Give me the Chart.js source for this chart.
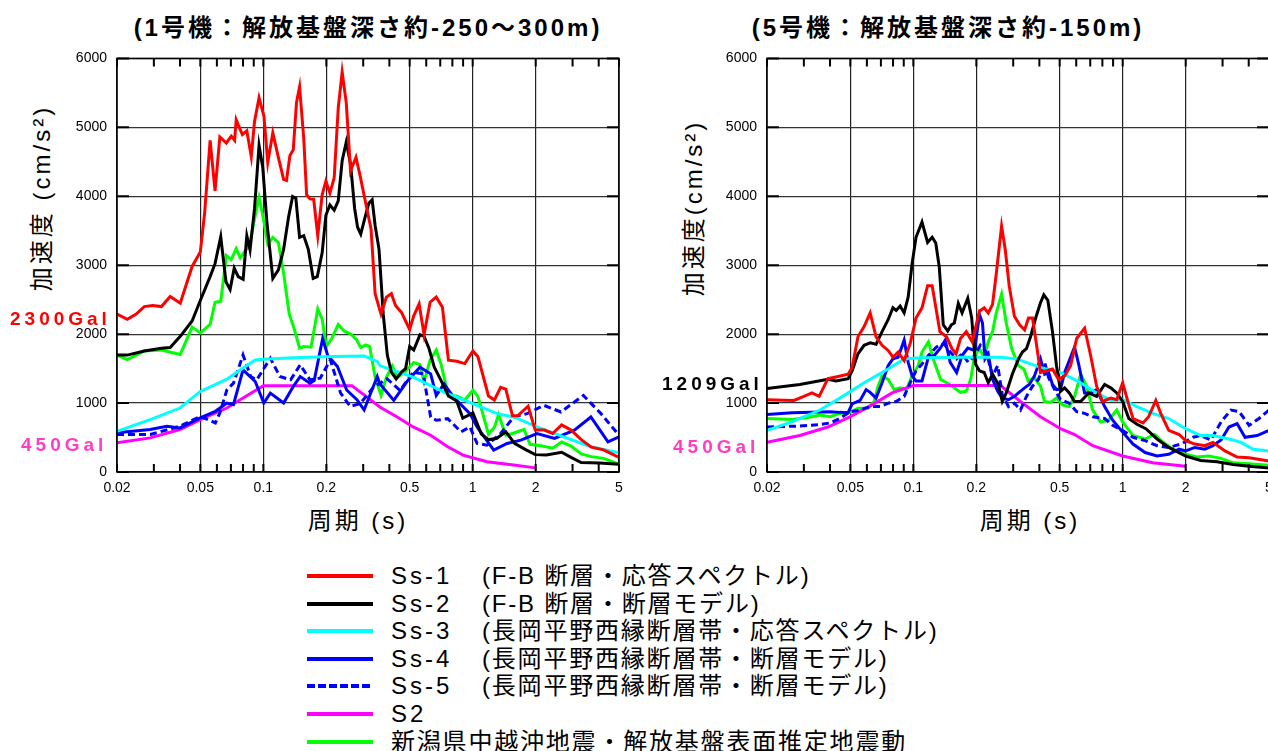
<!DOCTYPE html>
<html lang="ja">
<head>
<meta charset="utf-8">
<script src="https://cdn.jsdelivr.net/npm/chart.js@4.4.1/dist/chart.umd.min.js"></script>
<style>
  body { margin: 0; width: 1268px; height: 751px; overflow: hidden; background: #fff; position: relative;
         font-family: 'Liberation Sans', 'Noto Sans CJK JP', sans-serif; color: #000; }
  canvas { position: absolute; }
  .t { position: absolute; white-space: nowrap; line-height: 1; }
  .c { transform: translate(-50%, -50%); }
  .v { transform: translate(-50%, -50%) rotate(-90deg); }
  .l { transform: translateY(-50%); }
  .title { font-size: 24px; font-weight: bold; letter-spacing: 3px; }
  .axt { font-size: 24px; letter-spacing: 3px; }
  .gal { font-size: 19px; font-weight: bold; letter-spacing: 4px; }
  .name { font-size: 24px; letter-spacing: 3px; }
  .leg { font-size: 24px; letter-spacing: 1.8px; }
  .swatch { position: absolute; left: 307px; width: 66px; height: 4px; transform: translateY(-50%); }
</style>
</head>
<body>

<div class="t c title" style="left:368px; top:28px;">(1号機：解放基盤深さ約-250～300m)</div>
<div class="t c title" style="left:948px; top:28px;">(5号機：解放基盤深さ約-150m)</div>

<div class="t v axt" style="left:42px; top:198px;">加速度 (cm/s²)</div>
<div class="t v axt" style="left:694px; top:208px;">加速度(cm/s²)</div>
<div class="t c axt" style="left:358px; top:521px;">周期 (s)</div>
<div class="t c axt" style="left:1030px; top:521px;">周期 (s)</div>

<canvas id="u1" width="640" height="470" style="left:0; top:40px;"></canvas>
<canvas id="u5" width="640" height="470" style="left:650px; top:40px;"></canvas>

<div class="t l gal" style="left:10px; top:318px; color:#ff0000;">2300Gal</div>
<div class="t l gal" style="left:21px; top:444px; color:#ff3cc8;">450Gal</div>
<div class="t l gal" style="left:662px; top:383px; color:#000;">1209Gal</div>
<div class="t l gal" style="left:673px; top:446px; color:#ff3cc8;">450Gal</div>

<div id="legend"></div>

<script>
// x軸（周期）の目盛り
const PERIOD_TICKS = [0.02, 0.03, 0.04, 0.05, 0.06, 0.07, 0.08, 0.09, 0.1, 0.2, 0.3, 0.4, 0.5, 0.6, 0.7, 0.8, 0.9, 1, 2, 3, 4, 5];
const PERIOD_LABELS = [0.02, 0.05, 0.1, 0.2, 0.5, 1, 2, 5];

// 凡例
const SERIES_NAMES = ['Ss-1', 'Ss-2', 'Ss-3', 'Ss-4', 'Ss-5', 'S2', ''];
const SERIES_NOTES = [
  '(F-B 断層・応答スペクトル)',
  '(F-B 断層・断層モデル)',
  '(長岡平野西縁断層帯・応答スペクトル)',
  '(長岡平野西縁断層帯・断層モデル)',
  '(長岡平野西縁断層帯・断層モデル)',
  '',
  '新潟県中越沖地震・解放基盤表面推定地震動'
];
const SERIES_COLORS = ['#ff0000', '#000000', '#00ffff', '#0000ff', '#0000ff', '#ff00ff', '#00ff00'];

// 1号機 [周期(s), 加速度(cm/s2)]
const u1_ss1 = [[0.02,2290],[0.0224,2216],[0.0247,2290],[0.027,2400],[0.0296,2414],[0.0326,2400],[0.0359,2547],[0.0401,2448],[0.0457,2982],[0.05,3190],
  [0.0525,3774],[0.0557,4812],[0.0588,4080],[0.062,4862],[0.0666,4773],[0.0703,4872],[0.0729,4812],[0.0742,5109],[0.0794,4896],[0.0834,4950],
  [0.0876,4575],[0.0908,5085],[0.0954,5430],[0.1007,5160],[0.105,4490],[0.111,4920],[0.118,4565],[0.125,4244],[0.129,4229],[0.134,4590],
  [0.139,4674],[0.144,5356],[0.149,5589],[0.156,4837],[0.161,4021],[0.167,3962],[0.174,3957],[0.182,3428],[0.191,4021],[0.199,4219],
  [0.208,4046],[0.218,4268],[0.228,5282],[0.238,5802],[0.249,5356],[0.261,4367],[0.277,4565],[0.289,4318],[0.305,3972],[0.327,3527],
  [0.342,2587],[0.365,2290],[0.387,2537],[0.409,2587],[0.428,2414],[0.457,2315],[0.5,2067],[0.523,2265],[0.555,2438],[0.586,1993],
  [0.626,2463],[0.67,2537],[0.717,2389],[0.766,1622],[0.839,1607],[0.917,1573],[1.003,1756],[1.06,1672],[1.19,1103],[1.27,1044],
  [1.36,1227],[1.44,1202],[1.55,816],[1.64,816],[1.84,955],[1.99,608],[2.2,608],[2.41,559],[2.66,683],[2.95,608],
  [3.3,470],[3.69,361],[4.22,321],[5,213]];
const u1_ss2 = [[0.02,1696],[0.0224,1696],[0.027,1756],[0.0326,1795],[0.0359,1805],[0.0401,1968],[0.0457,2191],[0.05,2488],[0.0557,2834],[0.0588,3022],
  [0.0626,3413],[0.0663,2760],[0.0694,2646],[0.0726,2958],[0.0759,2834],[0.0801,2794],[0.0834,3428],[0.0864,3220],[0.0908,3823],[0.0954,4738],
  [0.0994,4417],[0.104,3625],[0.111,2809],[0.118,2933],[0.125,3230],[0.132,3700],[0.138,3996],[0.143,3971],[0.149,3403],[0.156,3428],
  [0.164,3230],[0.173,2809],[0.181,2834],[0.191,3180],[0.199,3724],[0.208,3873],[0.218,3798],[0.228,3932],[0.238,4516],[0.249,4788],
  [0.261,4466],[0.273,3823],[0.282,3551],[0.292,3452],[0.305,3675],[0.319,3897],[0.331,3947],[0.342,3576],[0.357,3230],[0.374,2290],
  [0.391,1696],[0.409,1449],[0.431,1350],[0.457,1449],[0.478,1499],[0.5,1820],[0.523,1770],[0.56,1993],[0.586,1968],[0.618,1795],
  [0.655,1523],[0.7,1350],[0.766,1103],[0.839,1029],[0.897,781],[1.003,856],[1.1,549],[1.19,470],[1.3,485],[1.44,584],
  [1.59,411],[1.8,321],[1.99,252],[2.25,247],[2.66,287],[2.95,213],[3.3,138],[4.04,129],[5,114]];
const u1_ss3 = [[0.02,591],[0.0288,760],[0.04,928],[0.05,1169],[0.067,1347],[0.0775,1481],[0.0915,1626],[0.104,1640],[0.15,1660],[0.216,1674],
  [0.303,1684],[0.351,1602],[0.36,1544],[0.52,1376],[0.76,1135],[1.0,991],[1.31,847],[1.57,798],[2.03,654],[2.72,510],
  [3.67,366],[4.74,293],[5,279]];
const u1_ss4 = [[0.02,568],[0.0288,616],[0.0346,664],[0.04,640],[0.05,784],[0.059,880],[0.067,1000],[0.072,976],[0.08,1481],[0.0915,1313],
  [0.1005,1000],[0.108,1145],[0.125,1000],[0.139,1241],[0.15,1385],[0.167,1289],[0.175,1328],[0.192,1935],[0.203,1690],[0.226,1530],
  [0.25,1190],[0.28,1049],[0.303,900],[0.35,1385],[0.36,1279],[0.42,1039],[0.49,1328],[0.56,1520],[0.63,1424],[0.67,1111],
  [0.73,1279],[0.81,1087],[0.97,847],[1.05,654],[1.26,317],[1.46,414],[1.7,462],[2.03,558],[2.46,486],[3.06,606],
  [3.67,798],[4.43,438],[5,510]];
const u1_ss5 = [[0.02,543],[0.0288,543],[0.04,664],[0.05,808],[0.059,712],[0.062,856],[0.067,1193],[0.072,1289],[0.08,1698],[0.087,1385],
  [0.093,1337],[0.108,1650],[0.12,1385],[0.135,1337],[0.15,1554],[0.167,1337],[0.187,1361],[0.209,1626],[0.234,1145],[0.26,952],
  [0.29,991],[0.336,1231],[0.39,1352],[0.45,1183],[0.52,1448],[0.58,1424],[0.63,798],[0.67,750],[0.76,774],[0.88,582],
  [0.97,654],[1.05,414],[1.17,390],[1.36,558],[1.57,798],[1.82,847],[2.19,967],[2.64,871],[3.38,1111],[4.1,847],[5,534]];
const u1_s2 = [[0.02,423],[0.0288,495],[0.04,616],[0.05,760],[0.067,928],[0.0775,1049],[0.1,1250],[0.265,1250],[0.313,1087],[0.36,943],
  [0.436,798],[0.52,654],[0.63,534],[0.76,366],[0.9,245],[1.17,149],[1.57,101],[2.0,60]];
const u1_chuetsu = [[0.02,1696],[0.0224,1632],[0.0247,1696],[0.027,1756],[0.0326,1770],[0.0401,1706],[0.0457,2102],[0.05,2018],[0.0557,2141],[0.0588,2463],
  [0.0626,2478],[0.0666,3141],[0.0703,3081],[0.0742,3240],[0.0776,3106],[0.0834,3240],[0.0864,3329],[0.0908,3675],[0.0954,3982],[0.0994,3724],
  [0.105,3304],[0.111,3403],[0.118,3329],[0.125,2883],[0.133,2290],[0.14,2092],[0.149,1795],[0.156,1820],[0.169,1810],[0.182,2364],
  [0.191,2216],[0.2,1820],[0.213,1944],[0.228,2141],[0.244,2043],[0.261,2003],[0.279,1919],[0.292,1805],[0.309,1845],[0.322,1820],
  [0.342,1375],[0.365,1113],[0.387,1375],[0.413,1538],[0.437,1375],[0.474,1449],[0.523,1588],[0.56,1558],[0.586,1311],[0.626,1622],
  [0.67,1770],[0.707,1558],[0.766,1103],[0.839,1103],[0.917,1044],[1.003,1187],[1.06,1093],[1.19,549],[1.27,648],[1.33,831],
  [1.44,534],[1.55,559],[1.76,618],[1.88,401],[2.15,376],[2.41,346],[2.66,435],[2.95,376],[3.3,262],[3.69,223],[4.22,198],[5,114]];

// 5号機
const u5_ss1 = [[0.02,1048],[0.0269,1038],[0.03,1097],[0.0328,1147],[0.0355,1097],[0.0391,1354],[0.0427,1379],[0.0488,1418],[0.051,1517],[0.0544,1962],
  [0.0582,2110],[0.0622,2308],[0.0664,1962],[0.0709,1838],[0.0758,1764],[0.0799,1665],[0.0846,1740],[0.0904,1616],[0.0966,1863],[0.103,2234],
  [0.11,2382],[0.117,2703],[0.123,2703],[0.129,2333],[0.134,2036],[0.144,1962],[0.153,1789],[0.16,1715],[0.168,1937],[0.179,2036],
  [0.191,1888],[0.207,2333],[0.218,2382],[0.228,2308],[0.239,2431],[0.249,2876],[0.264,3568],[0.275,3222],[0.287,2703],[0.304,2259],
  [0.322,2135],[0.34,2061],[0.355,2234],[0.371,2234],[0.388,1838],[0.405,1443],[0.433,1468],[0.462,1493],[0.494,1344],[0.528,1394],
  [0.564,1542],[0.603,1937],[0.658,2086],[0.703,1690],[0.751,1245],[0.802,1023],[0.877,1072],[0.937,1048],[1.0,1295],[1.07,974],
  [1.12,776],[1.25,712],[1.33,801],[1.44,1038],[1.52,850],[1.66,603],[1.86,544],[2.0,455],[2.21,405],[2.47,381],
  [2.7,430],[3.08,306],[3.52,217],[4.02,208],[5,158]];
const u5_ss2 = [[0.02,1211],[0.0287,1270],[0.0391,1344],[0.0427,1320],[0.0488,1354],[0.051,1468],[0.0544,1715],[0.0582,1838],[0.0622,1873],[0.0664,1853],
  [0.0709,2036],[0.0758,2209],[0.0799,2382],[0.0828,2343],[0.0865,2407],[0.0904,2308],[0.0945,2540],[0.0987,3024],[0.103,3405],[0.11,3627],
  [0.117,3331],[0.123,3405],[0.128,3321],[0.133,2975],[0.139,2135],[0.146,2046],[0.152,2135],[0.157,2160],[0.164,2446],[0.171,2308],
  [0.182,2520],[0.19,2234],[0.198,1567],[0.207,1468],[0.218,1443],[0.228,1295],[0.239,1418],[0.255,1270],[0.266,1023],[0.278,1147],
  [0.297,1418],[0.318,1641],[0.332,1740],[0.347,1789],[0.363,1962],[0.384,2234],[0.405,2456],[0.42,2570],[0.439,2491],[0.462,2036],
  [0.483,1542],[0.505,1171],[0.528,1221],[0.556,1147],[0.589,1023],[0.63,1023],[0.688,1147],[0.751,1097],[0.82,1270],[0.877,1221],
  [0.937,1147],[1.0,1023],[1.07,776],[1.17,692],[1.29,628],[1.46,479],[1.66,356],[2.0,232],[2.36,168],[2.82,148],
  [3.37,109],[4.02,84],[5,59]];
const u5_ss3 = [[0.02,603],[0.0263,726],[0.0358,899],[0.0446,1072],[0.0582,1295],[0.0758,1493],[0.0904,1641],[0.108,1656],[0.168,1665],[0.261,1665],
  [0.311,1641],[0.405,1517],[0.505,1443],[0.63,1295],[0.751,1147],[0.877,1038],[1.0,1048],[1.17,949],[1.39,850],[1.66,776],
  [2.0,628],[2.36,529],[2.7,529],[3.22,479],[3.68,430],[4.2,331],[5,306]];
const u5_ss4 = [[0.02,835],[0.0263,860],[0.0327,865],[0.04,875],[0.0446,865],[0.0488,860],[0.051,988],[0.0557,1038],[0.0595,1196],[0.0622,1156],
  [0.0664,1072],[0.0709,1295],[0.0758,1542],[0.0799,1641],[0.0846,1665],[0.0904,1913],[0.0945,1591],[0.0987,1394],[0.103,1320],[0.11,1320],
  [0.118,1665],[0.126,1690],[0.134,1789],[0.142,1913],[0.15,1591],[0.161,1443],[0.171,1690],[0.182,1799],[0.196,1764],[0.207,2283],
  [0.214,2160],[0.22,1641],[0.228,1715],[0.239,1344],[0.253,1171],[0.266,1072],[0.285,1048],[0.304,1097],[0.318,1147],[0.34,1221],
  [0.358,1270],[0.379,1394],[0.405,1641],[0.424,1418],[0.443,1443],[0.462,1270],[0.483,1196],[0.505,1206],[0.528,1443],[0.556,1616],
  [0.589,1814],[0.616,1567],[0.658,1147],[0.703,1147],[0.751,1196],[0.82,949],[0.896,751],[1.0,578],[1.12,405],[1.28,282],
  [1.46,232],[1.66,257],[1.86,331],[2.0,306],[2.21,356],[2.47,331],[2.7,381],[2.95,465],[3.22,652],[3.52,702],
  [3.84,504],[4.39,529],[5,603]];
const u5_ss5 = [[0.02,652],[0.0287,667],[0.0358,687],[0.04,712],[0.0446,776],[0.0498,875],[0.0544,890],[0.0622,949],[0.0694,949],[0.0758,998],
  [0.0828,1023],[0.0904,1097],[0.0966,1295],[0.103,1468],[0.11,1567],[0.118,1690],[0.129,1814],[0.14,1863],[0.15,1740],[0.161,1641],
  [0.171,1715],[0.183,1591],[0.196,1690],[0.209,1838],[0.223,1740],[0.239,1394],[0.253,1542],[0.266,1122],[0.285,949],[0.304,998],
  [0.325,899],[0.347,1097],[0.371,1245],[0.396,1344],[0.424,1591],[0.443,1369],[0.473,1196],[0.505,1048],[0.556,998],[0.603,875],
  [0.658,850],[0.72,801],[0.82,776],[0.896,677],[1.0,603],[1.12,504],[1.28,455],[1.46,381],[1.66,356],[1.9,405],
  [2.17,504],[2.36,529],[2.64,465],[2.95,726],[3.29,899],[3.6,875],[4.02,677],[4.48,776],[5,899]];
const u5_s2 = [[0.02,430],[0.0287,529],[0.0391,652],[0.0498,801],[0.0635,974],[0.0792,1147],[0.1,1255],[0.261,1255],[0.325,1023],[0.405,801],
  [0.505,628],[0.589,544],[0.72,381],[1.0,232],[1.39,133],[2.0,84]];
const u5_chuetsu = [[0.02,776],[0.0263,761],[0.0314,791],[0.0358,825],[0.04,801],[0.0446,850],[0.0498,865],[0.0544,924],[0.0608,924],[0.065,1023],
  [0.0679,1245],[0.0709,1394],[0.0758,1344],[0.081,1196],[0.0865,1221],[0.0925,1196],[0.0987,1394],[0.1055,1542],[0.11,1740],[0.118,1888],
  [0.126,1591],[0.135,1344],[0.144,1295],[0.152,1255],[0.161,1196],[0.168,1156],[0.179,1171],[0.188,1344],[0.196,1690],[0.207,1789],
  [0.218,1665],[0.228,1888],[0.239,2036],[0.249,2308],[0.264,2580],[0.278,2160],[0.295,1789],[0.318,1542],[0.337,1493],[0.354,1320],
  [0.379,1369],[0.405,1245],[0.423,1023],[0.452,1008],[0.483,1072],[0.516,974],[0.556,949],[0.589,1097],[0.63,1418],[0.673,1245],
  [0.719,899],[0.785,726],[0.857,751],[0.937,899],[1.0,726],[1.12,529],[1.28,479],[1.42,544],[1.56,430],[1.74,331],
  [2.0,257],[2.26,217],[2.58,232],[2.95,198],[3.37,133],[4.02,119],[5,99]];

// 枠と内向きの目盛り
const framePlugin = {
  id: 'frame',
  afterDraw(chart) {
    const { ctx, chartArea: a, scales } = chart;
    ctx.save();
    ctx.strokeStyle = '#000';
    ctx.lineWidth = 1.5;
    ctx.strokeRect(a.left, a.top, a.right - a.left, a.bottom - a.top);
    ctx.lineWidth = 2;
    ctx.beginPath();
    PERIOD_TICKS.forEach(v => {
      const px = scales.x.getPixelForValue(v);
      ctx.moveTo(px, a.top); ctx.lineTo(px, a.top + 8);
      ctx.moveTo(px, a.bottom); ctx.lineTo(px, a.bottom - 8);
    });
    scales.y.ticks.forEach(t => {
      const py = scales.y.getPixelForValue(t.value);
      ctx.moveTo(a.left, py); ctx.lineTo(a.left + 12, py);
      ctx.moveTo(a.right, py); ctx.lineTo(a.right - 12, py);
    });
    ctx.stroke();
    ctx.restore();
  }
};

const tickFont = { family: 'Liberation Sans', size: 14 };

function makeChart(id, series) {
  const datasets = series.map((pts, i) => ({
    data: pts.map(([x, y]) => ({ x, y })),
    borderColor: SERIES_COLORS[i],
    borderWidth: 3,
    borderDash: i === 4 ? [7, 4] : [],
    pointRadius: 0,
    tension: 0,
    fill: false
  }));
  return new Chart(document.getElementById(id), {
    type: 'line',
    data: { datasets },
    options: {
      responsive: false,
      animation: false,
      layout: { padding: { top: 14, right: 21, left: 0, bottom: 0 } },
      plugins: { legend: { display: false }, tooltip: { enabled: false } },
      scales: {
        x: {
          type: 'logarithmic', min: 0.02, max: 5,
          afterBuildTicks: s => { s.ticks = PERIOD_TICKS.map(v => ({ value: v })); },
          afterFit: s => { s.height = 38; },
          ticks: {
            autoSkip: false, maxRotation: 0, padding: 8, color: '#000', font: tickFont,
            callback: v => PERIOD_LABELS.includes(v) ? String(v) : ''
          },
          grid: {
            drawTicks: false, lineWidth: 1.2,
            color: c => (c.tick && PERIOD_LABELS.includes(c.tick.value)) ? '#222' : 'rgba(0,0,0,0)'
          },
          border: { display: false }
        },
        y: {
          min: 0, max: 6000,
          afterFit: s => { s.width = 117; },
          ticks: { stepSize: 1000, padding: 10, color: '#000', font: tickFont, callback: v => String(v) },
          grid: { drawTicks: false, color: '#333', lineWidth: 1.2 },
          border: { display: false }
        }
      }
    },
    plugins: [framePlugin]
  });
}

makeChart('u1', [u1_ss1, u1_ss2, u1_ss3, u1_ss4, u1_ss5, u1_s2, u1_chuetsu]);
makeChart('u5', [u5_ss1, u5_ss2, u5_ss3, u5_ss4, u5_ss5, u5_s2, u5_chuetsu]);

// 凡例（HTML）
const legend = document.getElementById('legend');
SERIES_NAMES.forEach((name, i) => {
  const y = 576 + i * 27.6;
  const sw = document.createElement('div');
  sw.className = 'swatch';
  sw.style.top = y + 'px';
  sw.style.background = i === 4
    ? 'repeating-linear-gradient(90deg, #0000ff 0 8px, transparent 8px 11px)'
    : SERIES_COLORS[i];
  legend.appendChild(sw);
  if (name) {
    const n = document.createElement('div');
    n.className = 't l name';
    n.style.left = '391px'; n.style.top = y + 'px';
    n.textContent = name;
    legend.appendChild(n);
  }
  if (SERIES_NOTES[i]) {
    const d = document.createElement('div');
    d.className = 't l leg';
    d.style.left = (name ? 482 : 391) + 'px'; d.style.top = y + 'px';
    d.textContent = SERIES_NOTES[i];
    legend.appendChild(d);
  }
});
</script>
</body>
</html>
